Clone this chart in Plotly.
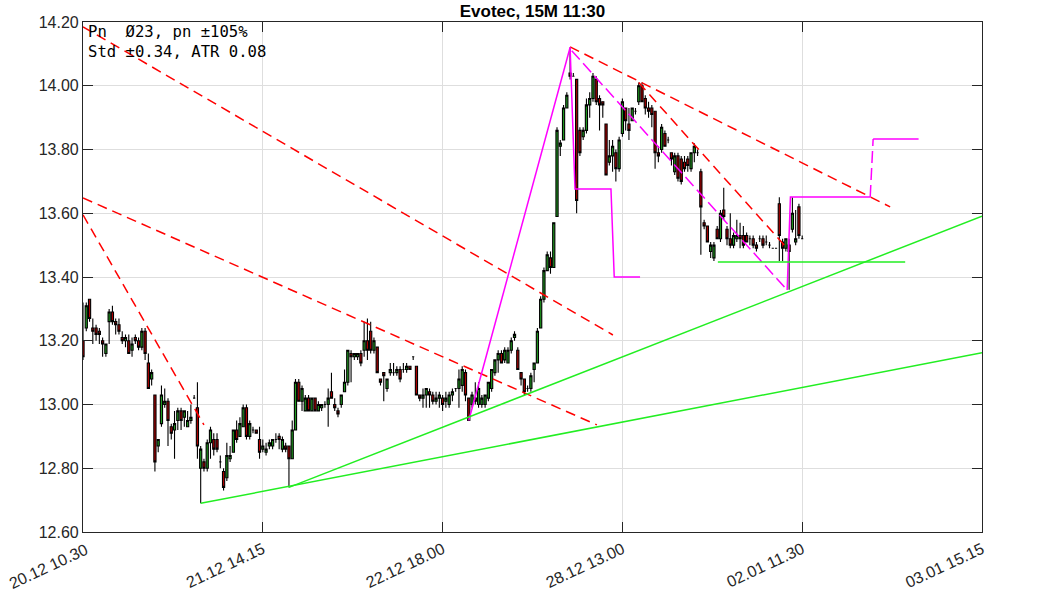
import plotly.graph_objects as go

# ---------------- data ----------------
opens = [13.20,13.24,13.33,13.24,13.24,13.23,13.20,13.16,13.26,13.29,13.26,13.25,13.21,13.20,13.20,13.17,13.21,13.20,13.18,13.23,
         13.13,13.08,13.03,12.87,12.94,13.00,13.01,12.93,12.92,12.95,12.98,12.96,12.93,12.95,13.02,12.99,12.80,
         12.82,12.80,12.88,12.89,12.89,12.82,12.79,12.77,12.83,12.85,12.92,12.90,12.93,12.99,12.90,12.92,12.92,12.89,12.86,12.85,
         12.87,12.87,12.89,12.90,12.86,12.87,12.87,12.83,12.92,13.07,13.01,12.98,13.02,12.98,13.02,12.98,12.99,13.00,
         13.00,13.04,13.00,12.98,13.00,13.04,13.07,13.16,13.15,13.15,13.16,13.17,13.20,13.23,13.17,13.18,13.08,13.10,13.05,13.10,
         13.10,13.10,13.11,13.11,13.11,13.12,13.15,13.12,13.03,13.02,13.03,13.04,13.03,13.01,13.02,13.02,13.01,13.00,
         13.03,13.05,13.05,13.06,13.10,13.02,13.00,13.02,13.00,13.00,13.00,13.02,13.05,13.10,13.14,13.16,13.14,13.13,13.17,13.21,
         13.17,13.10,13.08,13.05,13.05,13.11,13.13,13.24,13.33,13.42,13.46,13.43,13.59,13.81,
         13.83,13.93,14.04,14.03,14.02,13.86,13.84,13.86,13.94,13.96,14.02,13.96,13.95,13.88,13.76,13.78,13.79,13.74,13.85,13.93,
         13.88,13.89,13.92,13.95,14.00,13.96,13.93,13.93,13.92,13.79,13.80,13.85,13.83,13.79,13.73,13.78,
         13.77,13.76,13.77,13.74,13.79,13.79,13.73,13.57,13.56,13.48,13.46,13.55,13.52,13.61,13.55,13.52,13.50,13.52,13.53,13.53,
         13.53,13.52,13.52,13.50,13.52,13.52,13.51,13.50,13.49,13.49,13.63,13.51,13.49,13.50,13.55,13.51,13.62,13.52]
highs = [13.32,13.32,13.33,13.27,13.25,13.24,13.21,13.19,13.30,13.31,13.27,13.27,13.23,13.22,13.22,13.21,13.22,13.21,13.24,13.24,
         13.16,13.11,13.03,12.89,13.06,13.05,13.02,12.94,12.98,12.99,12.99,12.98,12.98,13.00,13.03,13.07,12.87,
         12.83,12.89,12.93,12.91,12.91,12.84,12.80,12.88,12.87,12.92,12.95,12.96,13.00,13.00,12.95,12.93,12.92,12.93,12.89,12.88,
         12.89,12.89,12.91,12.91,12.90,12.88,12.87,12.95,13.08,13.08,13.06,13.03,13.03,13.02,13.02,13.01,13.00,13.01,
         13.05,13.10,13.02,12.99,13.03,13.11,13.17,13.17,13.16,13.16,13.17,13.26,13.27,13.26,13.21,13.18,13.08,13.10,13.08,13.13,
         13.13,13.12,13.12,13.13,13.13,13.12,13.15,13.12,13.03,13.05,13.05,13.05,13.04,13.04,13.04,13.03,13.04,13.04,
         13.05,13.05,13.11,13.12,13.11,13.02,13.04,13.07,13.07,13.03,13.03,13.07,13.11,13.14,13.17,13.17,13.18,13.18,13.21,13.23,
         13.18,13.10,13.08,13.06,13.10,13.13,13.24,13.34,13.43,13.48,13.48,13.57,13.87,13.83,
         13.94,13.98,14.12,14.04,14.02,13.87,13.87,13.96,13.98,14.04,14.03,13.97,13.95,13.88,13.83,13.83,13.80,13.84,13.96,13.93,
         13.93,13.93,13.93,14.01,14.01,13.97,13.95,13.94,13.92,13.81,13.88,13.86,13.84,13.79,13.79,13.79,
         13.78,13.78,13.78,13.79,13.82,13.80,13.74,13.58,13.56,13.51,13.51,13.56,13.61,13.68,13.56,13.60,13.54,13.58,13.57,13.56,
         13.54,13.53,13.53,13.51,13.53,13.53,13.53,13.51,13.49,13.49,13.65,13.52,13.52,13.52,13.65,13.61,13.63,13.53]
lows = [13.14,13.23,13.26,13.19,13.20,13.19,13.15,13.15,13.19,13.25,13.22,13.22,13.19,13.18,13.16,13.15,13.19,13.17,13.17,13.14,
        13.05,13.06,12.79,12.85,12.93,12.99,12.87,12.89,12.83,12.92,12.92,12.93,12.93,12.94,13.02,12.83,12.69,
        12.79,12.79,12.83,12.84,12.85,12.80,12.73,12.76,12.82,12.85,12.88,12.90,12.93,12.89,12.89,12.91,12.91,12.83,12.85,12.84,
        12.86,12.86,12.88,12.86,12.85,12.85,12.74,12.83,12.92,13.01,12.98,12.98,12.98,12.98,12.98,12.98,12.98,12.99,
        12.93,13.02,12.98,12.96,12.99,13.04,13.06,13.07,13.14,13.14,13.12,13.15,13.14,13.16,13.16,13.10,13.06,13.01,13.04,13.09,
        13.09,13.09,13.07,13.10,13.10,13.11,13.14,13.03,13.01,12.99,12.99,12.99,13.00,13.00,12.99,12.98,12.99,12.99,
        13.01,13.04,12.99,13.04,13.01,12.95,12.99,13.00,12.99,12.99,12.99,13.01,13.04,13.09,13.10,13.13,13.13,13.13,13.16,13.20,
        13.11,13.06,13.03,13.04,13.04,13.07,13.13,13.24,13.32,13.42,13.41,13.43,13.59,13.78,
        13.83,13.93,14.02,14.03,13.60,13.78,13.83,13.85,13.90,13.95,13.94,13.86,13.90,13.72,13.75,13.73,13.70,13.73,13.84,13.86,
        13.83,13.89,13.91,13.94,13.95,13.91,13.90,13.87,13.74,13.76,13.79,13.81,13.82,13.75,13.72,13.70,
        13.69,13.73,13.73,13.73,13.76,13.78,13.47,13.55,13.51,13.46,13.45,13.52,13.51,13.58,13.50,13.49,13.49,13.51,13.49,13.49,
        13.51,13.50,13.49,13.48,13.51,13.49,13.50,13.49,13.49,13.49,13.45,13.45,13.48,13.36,13.54,13.50,13.52,13.52]
closes = [13.15,13.31,13.27,13.23,13.22,13.22,13.19,13.19,13.29,13.26,13.25,13.23,13.20,13.21,13.16,13.19,13.20,13.18,13.23,13.16,
          13.05,13.10,12.82,12.89,13.03,13.01,12.95,12.91,12.94,12.98,12.95,12.98,12.95,12.96,13.02,12.87,12.86,
          12.80,12.88,12.92,12.86,12.86,12.82,12.74,12.84,12.84,12.92,12.89,12.94,12.99,12.90,12.94,12.92,12.91,12.85,12.87,12.86,
          12.88,12.89,12.89,12.89,12.89,12.86,12.83,12.92,13.07,13.01,13.05,13.02,12.98,13.02,12.98,13.00,13.00,13.00,
          13.02,13.02,12.99,12.97,13.03,13.07,13.17,13.15,13.16,13.16,13.13,13.20,13.17,13.17,13.20,13.10,13.07,13.09,13.08,13.11,
          13.10,13.11,13.08,13.11,13.12,13.11,13.15,13.03,13.02,13.03,13.05,13.03,13.01,13.02,13.03,13.00,13.02,13.03,
          13.04,13.05,13.08,13.11,13.03,12.95,13.03,13.01,13.05,13.02,13.03,13.07,13.11,13.14,13.16,13.13,13.17,13.17,13.20,13.22,
          13.11,13.08,13.04,13.05,13.09,13.13,13.23,13.33,13.42,13.47,13.43,13.57,13.86,13.82,
          13.93,13.97,14.03,14.03,13.64,13.79,13.86,13.94,13.96,14.03,13.95,13.94,13.94,13.72,13.78,13.81,13.74,13.83,13.95,13.89,
          13.86,13.93,13.92,14.00,13.95,13.93,13.92,13.91,13.79,13.78,13.87,13.81,13.83,13.77,13.78,13.71,
          13.70,13.74,13.75,13.79,13.81,13.79,13.62,13.56,13.51,13.50,13.50,13.52,13.60,13.59,13.52,13.50,13.53,13.53,13.52,13.50,
          13.51,13.52,13.50,13.49,13.52,13.50,13.51,13.50,13.49,13.49,13.53,13.49,13.52,13.48,13.60,13.52,13.53,13.52]
bars = list(range(len(closes)))

tick_labels = ["20.12 10.30", "21.12 14.15", "22.12 18.00", "28.12 13.00", "02.01 11.30", "03.01 15.15"]
y_ticks = [12.60, 12.80, 13.00, 13.20, 13.40, 13.60, 13.80, 14.00, 14.20]

# trend lines (bar index, price)
red_lines = [
    ([0, 162.1], [14.185, 13.218]),
    ([0, 157.2], [13.648, 12.936]),
    ([0, 37.0], [13.595, 12.936]),
    ([149, 246.9], [14.122, 13.620]),
    ([170, 215.4], [14.01, 13.49]),
]
magenta_solid = [
    ([118, 149], [12.95, 14.12]),
    ([149, 150.5, 161.5, 162.5, 170.4], [14.12, 13.676, 13.676, 13.40, 13.40]),
    ([215.4, 216.4, 240.8], [13.359, 13.651, 13.651]),
    ([241.7, 255.6], [13.833, 13.833]),
]
magenta_dashed = [
    ([149.5, 215.4], [14.11, 13.359]),
    ([240.8, 241.7], [13.651, 13.833]),
]
green_lines = [
    ([194.2, 251.5], [13.447, 13.447]),
    ([63, 275], [12.74, 13.591]),
    ([36, 275], [12.69, 13.162]),
]

n_last = len(closes) - 1
x_end = n_last * 1.25
tick_pos = [n_last * k / 4 for k in range(6)]
# first label is drawn as a shifted annotation (kept inside the figure, as in the reference)
axis_text = [""] + tick_labels[1:]

fig = go.Figure()
fig.add_trace(go.Candlestick(
    x=bars, open=opens, high=highs, low=lows, close=closes,
    increasing=dict(line=dict(color="black", width=1.1), fillcolor="#1f9a1f"),
    decreasing=dict(line=dict(color="black", width=1.1), fillcolor="#b00000"),
    whiskerwidth=0, showlegend=False, hoverinfo="skip"))

for xs, ys in red_lines:
    fig.add_trace(go.Scatter(x=xs, y=ys, mode="lines", showlegend=False, hoverinfo="skip",
                             line=dict(color="#ff0000", width=1.5, dash="10px,6px")))
for xs, ys in magenta_dashed:
    fig.add_trace(go.Scatter(x=xs, y=ys, mode="lines", showlegend=False, hoverinfo="skip",
                             line=dict(color="#ff00ff", width=1.5, dash="12px,5px")))
for xs, ys in magenta_solid:
    fig.add_trace(go.Scatter(x=xs, y=ys, mode="lines", showlegend=False, hoverinfo="skip",
                             line=dict(color="#ff00ff", width=1.5)))
for xs, ys in green_lines:
    fig.add_trace(go.Scatter(x=xs, y=ys, mode="lines", showlegend=False, hoverinfo="skip",
                             line=dict(color="#22ee22", width=1.5)))

tick_font = dict(family="Liberation Sans, Arial, sans-serif", size=16, color="#262626")
axis_common = dict(showline=True, linecolor="#262626", linewidth=1.2, mirror="allticks",
                   ticks="inside", ticklen=10, tickcolor="#262626", showgrid=True,
                   gridcolor="#dedede", gridwidth=1, zeroline=False, automargin=False,
                   tickfont=tick_font)

fig.update_layout(
    width=1063, height=591,
    margin=dict(l=83, r=81, t=22, b=59, autoexpand=False),
    boxgap=0.05,
    paper_bgcolor="white", plot_bgcolor="white",
    title=dict(text="<b>Evotec, 15M 11:30</b>", x=0.5, xref="paper", xanchor="center",
               y=1 - 11 / 591, yref="container", yanchor="middle", automargin=False,
               font=dict(family="Liberation Sans, Arial, sans-serif", size=17, color="#000000")),
    xaxis=dict(range=[0, x_end], tickvals=tick_pos, ticktext=axis_text, tickangle=-25,
               ticklabelstandoff=1, rangeslider=dict(visible=False), **axis_common),
    yaxis=dict(range=[12.60, 14.20], tickvals=y_ticks, tickformat=".2f", **axis_common),
    annotations=[
        dict(text="Pn  Ø23, pn ±105%<br>Std ±0.34, ATR 0.08", xref="paper", yref="paper",
             x=0, y=1, xanchor="left", yanchor="top", xshift=3, yshift=1, align="left",
             showarrow=False,
             font=dict(family="DejaVu Sans Mono, monospace", size=15.6, color="#000000")),
        dict(text=tick_labels[0], xref="paper", yref="paper", x=0, y=0,
             xanchor="center", yanchor="middle", xshift=-35, yshift=-34, textangle=-25,
             showarrow=False, font=tick_font),
    ],
)

fig.write_html("out.html", config={"displayModeBar": False},
               post_script="document.body.style.margin='0px';")
